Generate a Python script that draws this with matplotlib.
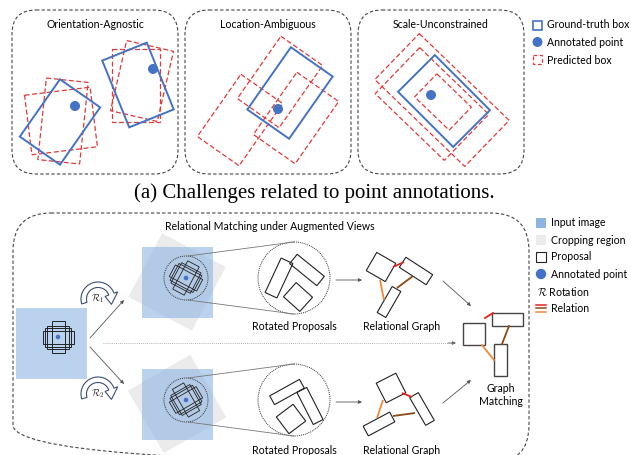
import numpy as np
import matplotlib
matplotlib.use('Agg')
from matplotlib import pyplot as plt
from matplotlib.patches import Polygon, Circle, FancyBboxPatch, Rectangle

plt.rcParams['mathtext.fontset'] = 'cm'
SANS = 'Lato'

# boxes are (cx, cy, w, h, angle_deg) in pixel units, angle clockwise
gt_boxes = [(60, 122, 49, 70, 35), (138, 85, 48, 72, -22),
            (290, 93, 51, 76, 35), (444, 101, 78, 52, 45)]
ann_points = [(75, 106), (153, 69), (278, 109), (431, 95)]
pred_boxes = [(61, 121, 66, 60, -7), (63, 121, 42, 82, 6),
              (136, 85, 48, 73, 0), (142, 81, 48, 72, 13),
              (240, 120, 51, 76, 35), (280, 82, 51, 76, 35), (296, 118, 51, 76, 35),
              (442, 100, 125, 64, 44), (432, 104, 96, 64, 44), (443, 102, 48, 32, 44)]
panel_titles = ['Orientation-Agnostic', 'Location-Ambiguous', 'Scale-Unconstrained']
panel_x = [12, 185, 358]
legend_a = ['Ground-truth box', 'Annotated point', 'Predicted box']
legend_b = ['Input image', 'Cropping region', 'Proposal', 'Annotated point',
            r'$\mathcal{R}$ Rotation', 'Relation']

cross_sizes = [(31, 13), (13, 32), (22, 23), (26, 19)]
view_angles = [28, -30]
view_cy = [282, 404]
rot_props = [[(279, 278, 13, 38, 25), (307, 270, 35, 12, 39), (298, 297, 22, 19, 42)],
             [(287, 392, 34, 10, -29), (310, 406, 11, 36, -27), (291, 419, 21, 21, -37)]]
graph_boxes = [[(381, 267, 22, 21, 30), (416, 271, 32, 12, 33), (389, 302, 10, 30, 30)],
               [(391, 388, 22, 22, -27), (422, 409, 10, 32, -30), (379, 424, 30, 11, -28)]]
graph_edges = [[((393, 267), (404, 262)), ((397, 288), (413, 276)), ((380, 280), (384, 300))],
               [((402, 393), (412, 397)), ((393, 416), (415, 413)), ((383, 400), (377, 418))]]
match_boxes = [(463, 323, 22, 22), (492, 313, 31, 13), (494, 344, 13, 32)]
match_edges = [((485, 318), (493, 313)), ((509, 326), (502, 344)), ((482, 345), (494, 360))]
rel_colors = ['#e8201c', '#8c4a14', '#f0883a']

BLUE = '#4472c4'
RED = '#e03a3a'


def rect_pts(cx, cy, w, h, ang):
    t = np.deg2rad(ang)
    c, s = np.cos(t), np.sin(t)
    dx = np.array([-w / 2, w / 2, w / 2, -w / 2])
    dy = np.array([-h / 2, -h / 2, h / 2, h / 2])
    return np.column_stack([cx + dx * c - dy * s, cy + dx * s + dy * c])


def box(ax, b, **kw):
    ax.add_patch(Polygon(rect_pts(*b), closed=True, fill=kw.pop('fill', False), **kw))


def arrow(ax, p0, p1, color='#555'):
    ax.annotate('', xy=p1, xytext=p0,
                arrowprops=dict(arrowstyle='-|>', color=color, lw=0.6,
                                mutation_scale=5, shrinkA=0, shrinkB=0))


def rot_icon(ax, cx, cy, label):
    R, r = 17, 11.5
    t_out = np.deg2rad(np.linspace(197, 20, 40))
    pts = [(cx + R * np.cos(t), cy - R * np.sin(t)) for t in t_out]
    ta = np.deg2rad(20)
    pts.append((cx + (R + 4) * np.cos(ta), cy - (R + 4) * np.sin(ta)))
    tt = np.deg2rad(-22)
    pts.append((cx + 14.5 * np.cos(tt), cy - 14.5 * np.sin(tt)))
    pts.append((cx + (r - 4) * np.cos(ta), cy - (r - 4) * np.sin(ta)))
    pts += [(cx + r * np.cos(t), cy - r * np.sin(t)) for t in t_out[::-1]]
    ax.add_patch(Polygon(pts, closed=True, facecolor='white', edgecolor='#3b4e78', lw=0.8))
    ax.text(cx, cy, label, fontsize=6.8, ha='center', va='center', color='#222')


fig = plt.figure(figsize=(6.31, 4.55), dpi=100)
ax = fig.add_axes([0, 0, 1, 1])
ax.set_xlim(0, 631)
ax.set_ylim(455, 0)
ax.axis('off')

# ---- (a) top panels
for x0, title in zip(panel_x, panel_titles):
    ax.add_patch(FancyBboxPatch((x0, 10), 166, 164, boxstyle='round,pad=0,rounding_size=24',
                                fill=False, ec='#444', lw=0.8, ls=(0, (3, 2))))
    ax.text(x0 + 83, 24, title, fontsize=7.6, family=SANS, ha='center', va='center')

for b in pred_boxes:
    box(ax, b, ec=RED, lw=0.9, ls=(0, (4, 2)))
for b in gt_boxes:
    box(ax, b, ec=BLUE, lw=1.4)
for p in ann_points:
    ax.add_patch(Circle(p, 4.3, color=BLUE))

ax.add_patch(Rectangle((533, 21), 9, 9, fill=False, ec=BLUE, lw=1.2))
ax.add_patch(Circle((537.5, 42), 4.3, color=BLUE))
ax.add_patch(Rectangle((533, 54.5), 9, 9, fill=False, ec=RED, lw=0.9, ls=(0, (3, 2))))
for i, t in enumerate(legend_a):
    ax.text(547, 25 + i * 17.5, t, fontsize=7.6, family=SANS, va='center')

ax.text(314, 193, '(a) Challenges related to point annotations.', fontsize=15,
        family='Liberation Serif', ha='center', va='center')

# ---- (b) bottom panel
ax.add_patch(FancyBboxPatch((13, 213), 516, 250, boxstyle='round,pad=0,rounding_size=38',
                            fill=False, ec='#444', lw=0.8, ls=(0, (3, 2))))
ax.text(270, 227, 'Relational Matching under Augmented Views', fontsize=7.6,
        family=SANS, ha='center', va='center')

# input image
ax.add_patch(Rectangle((16, 308), 71, 71, color='#8eb4e3', alpha=0.6, lw=0))
for w, h in cross_sizes:
    box(ax, (58, 337, w, h, 0), ec='#222', lw=0.7)
ax.add_patch(Circle((58, 337), 1.6, color=BLUE))

arrow(ax, (90, 338), (124, 300))
arrow(ax, (90, 347), (124, 384))
rot_icon(ax, 98, 299, r'$\mathcal{R}_1$')
rot_icon(ax, 98, 394, r'$\mathcal{R}_2$')

ax.plot([103, 452], [343, 343], color='#999', lw=0.6, ls=(0, (1, 1.5)))
arrow(ax, (448, 343), (456, 343), color='#666')

for k in range(2):
    cy = view_cy[k]
    ax.add_patch(Polygon(rect_pts(177, cy, 72, 72, view_angles[k]), closed=True,
                         color='#ebebeb', lw=0))
    ax.add_patch(Rectangle((142, cy - 35.5), 71, 71, color='#8eb4e3', alpha=0.6, lw=0))
    sc = cy - 4
    ax.add_patch(Circle((186, sc), 22, fill=False, ec='#333', lw=0.7, ls=(0, (1, 1))))
    for w, h in cross_sizes:
        box(ax, (186, sc, w, h, view_angles[k]), ec='#222', lw=0.6)
    ax.add_patch(Circle((186, sc), 1.6, color=BLUE))
    # zoom lines
    ax.plot([188, 294], [sc - 22, sc - 36], color='#777', lw=0.6)
    ax.plot([188, 294], [sc + 22, sc + 36], color='#777', lw=0.6)
    ax.add_patch(Circle((294, sc), 36, fc='white', ec='#333', lw=0.7, ls=(0, (1, 1))))
    for b in rot_props[k]:
        box(ax, b, ec='#222', lw=0.8)
    ty = 327 if k == 0 else 450
    ax.text(294, ty, 'Rotated Proposals', fontsize=7.6, family=SANS, ha='center', va='center')
    arrow(ax, (336, sc + 2), (362, sc + 2))
    # relational graph
    for (p0, p1), c in zip(graph_edges[k], rel_colors):
        ax.plot([p0[0], p1[0]], [p0[1], p1[1]], color=c, lw=1.3, solid_capstyle='butt')
    for b in graph_boxes[k]:
        box(ax, b, ec='#222', lw=0.8)
    ax.text(402, ty, 'Relational Graph', fontsize=7.6, family=SANS, ha='center', va='center')

arrow(ax, (443, 281), (471, 306))
arrow(ax, (443, 403), (471, 380))

for (p0, p1), c in zip(match_edges, rel_colors):
    ax.plot([p0[0], p1[0]], [p0[1], p1[1]], color=c, lw=1.3)
for x0, y0, w, h in match_boxes:
    ax.add_patch(Rectangle((x0, y0), w, h, fc='white', ec='#444', lw=1.0))
ax.text(501, 395, 'Graph\nMatching', fontsize=7.6, family=SANS, ha='center', va='center',
        linespacing=1.25)

# legend (b)
ax.add_patch(Rectangle((536, 218), 10, 10, color='#8eb4e3', lw=0))
ax.add_patch(Rectangle((536, 235), 10, 10, color='#ececec', lw=0))
ax.add_patch(Rectangle((536, 252), 10, 10, fc='white', ec='#222', lw=0.8))
ax.add_patch(Circle((541, 274), 4.5, color=BLUE))
for i, c in enumerate(rel_colors):
    ax.plot([536, 546], [304.5 + i * 3.6, 304.5 + i * 3.6], color=c, lw=1.1)
for i, t in enumerate(legend_b):
    x = 537 if i == 4 else 551
    ax.text(x, 223 + i * 17, t, fontsize=7.6, family=SANS, va='center')

fig.savefig('out.png', dpi=100)
